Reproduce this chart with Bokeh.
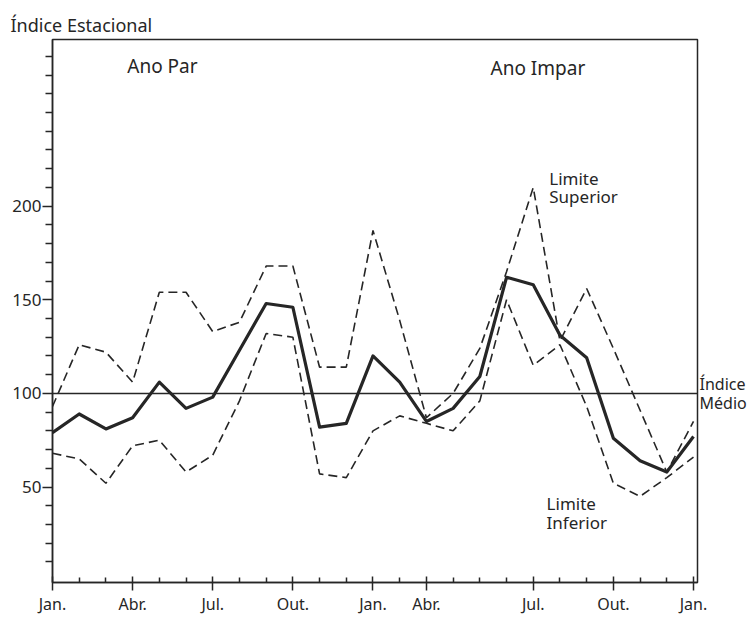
from bokeh.plotting import figure
from bokeh.models import Range1d, FixedTicker, Span, Label, LinearAxis
from bokeh.embed import file_html
from bokeh.resources import INLINE

# ---- data (month index 0 = Jan. of "Ano Par", 12 = Jan. of "Ano Impar", 24 = Jan. next) ----
months = list(range(25))
indice_medio = [79, 89, 81, 87, 106, 92, 98, 123, 148, 146, 82, 84, 120,
                106, 85, 92, 109, 162, 158, 131, 119, 76, 64, 58, 77]
limite_superior = [93, 126, 122, 106, 154, 154, 133, 138, 168, 168, 114, 114, 187,
                   139, 87, 100, 124, 165, 210, 128, 156, 124, 91, 58, 85]
limite_inferior = [68, 65, 52, 72, 75, 58, 67, 96, 132, 130, 57, 55, 80,
                   88, 84, 80, 96, 150, 115, 126, 93, 52, 45, 55, 66]

x_tick_pos = [0, 3, 6, 9, 12, 14, 18, 21, 24]
x_tick_labels = ["Jan.", "Abr.", "Jul.", "Out.", "Jan.", "Abr.", "Jul.", "Out.", "Jan."]
y_tick_pos = [50, 100, 150, 200]
y_tick_labels = ["50", "100", "150", "200"]
y_minor = [v for v in range(10, 290, 10) if v not in y_tick_pos]
x_minor = [m for m in months if m not in x_tick_pos]
reference_level = 100
ref_label_pos = [105, 95]
ref_label_text = ["Índice", "Médio"]

INK = "#262626"
FONT = "Noto Sans"

p = figure(width=754, height=617,
           x_range=Range1d(0, 24.15), y_range=Range1d(-1, 289),
           output_backend="svg", toolbar_location=None,
           min_border_left=52, min_border_right=57,
           min_border_top=39, min_border_bottom=34)
p.background_fill_color = "white"
p.border_fill_color = "white"
p.xgrid.visible = False
p.ygrid.visible = False
p.outline_line_color = INK
p.outline_line_width = 1.5

# title as the y-axis caption
p.title.text = "Índice Estacional"
p.title.align = "left"
p.title.offset = -42
p.title.text_font = FONT
p.title.text_font_size = "18px"
p.title.text_font_style = "normal"
p.title.text_color = INK
p.title.standoff = 5

# x axis
p.xaxis.ticker = FixedTicker(ticks=x_tick_pos, minor_ticks=x_minor)
p.xaxis.major_label_overrides = {pos: lab for pos, lab in zip(x_tick_pos, x_tick_labels)}
p.xaxis.major_tick_in = 6
p.xaxis.major_tick_out = 8
p.xaxis.minor_tick_in = 5
p.xaxis.minor_tick_out = 0
p.xaxis.major_label_standoff = 2
p.xaxis.major_label_text_font_size = "16px"

# y axis
p.yaxis.ticker = FixedTicker(ticks=y_tick_pos, minor_ticks=y_minor)
p.yaxis.major_label_overrides = {pos: lab for pos, lab in zip(y_tick_pos, y_tick_labels)}
p.yaxis.major_tick_in = 0
p.yaxis.major_tick_out = 10
p.yaxis.minor_tick_in = 0
p.yaxis.minor_tick_out = 7
p.yaxis.major_label_standoff = 1
p.yaxis.major_label_text_font_size = "17px"

for ax in (p.xaxis, p.yaxis):
    ax.axis_line_color = INK
    ax.axis_line_width = 1.5
    ax.major_tick_line_color = INK
    ax.major_tick_line_width = 1.5
    ax.minor_tick_line_color = INK
    ax.minor_tick_line_width = 1.5
    ax.major_label_text_font = FONT
    ax.major_label_text_color = INK

# right-side caption for the reference line
right_ax = LinearAxis(ticker=FixedTicker(ticks=ref_label_pos, minor_ticks=[]),
                      major_label_overrides={pos: t for pos, t in zip(ref_label_pos, ref_label_text)},
                      axis_line_color=None, major_tick_line_color=None,
                      minor_tick_line_color=None, major_tick_out=0, major_tick_in=0,
                      major_label_standoff=2,
                      major_label_text_font=FONT, major_label_text_font_size="16px",
                      major_label_text_color=INK)
p.add_layout(right_ax, "right")

# reference line (Índice Médio)
p.add_layout(Span(location=reference_level, dimension="width",
                  line_color=INK, line_width=1.5))

# series
p.line(months, limite_superior, line_color=INK, line_width=1.6, line_dash="9 5")
p.line(months, limite_inferior, line_color=INK, line_width=1.6, line_dash="9 5")
p.line(months, indice_medio, line_color=INK, line_width=3.2, line_join="round")

# texts inside the frame
def lab(text, x, y, size="16px"):
    p.add_layout(Label(x=x, y=y, text=text,
                       text_font=FONT, text_font_size=size, text_color=INK,
                       text_align="left", text_baseline="alphabetic"))

lab("Ano Par", 2.8, 275, size="19px")
lab("Ano Impar", 16.4, 274, size="19px")
lab("Limite", 18.6, 215, size="17px")
lab("Superior", 18.6, 205, size="17px")
lab("Limite", 18.5, 41, size="17px")
lab("Inferior", 18.5, 31, size="17px")

open("out.html", "w").write(file_html(p, INLINE))
